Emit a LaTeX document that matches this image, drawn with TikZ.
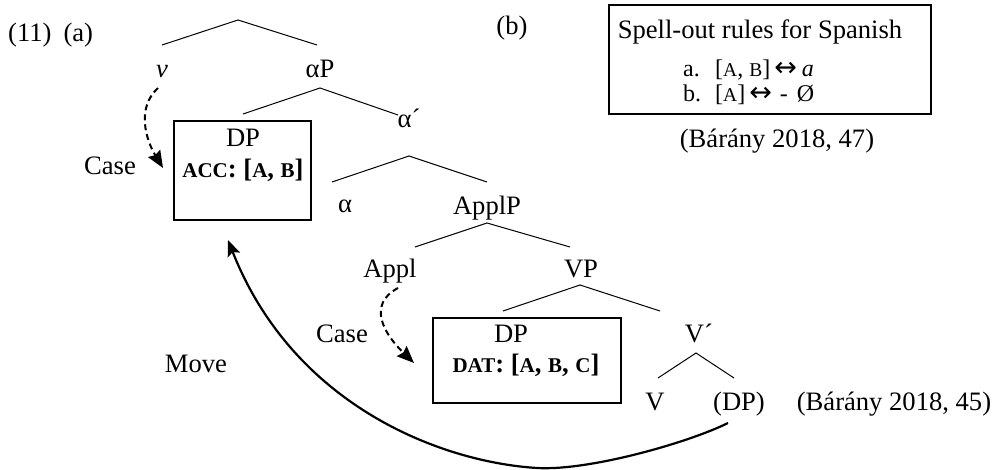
\documentclass[tikz,border=0pt]{standalone}
\usepackage{fontspec}
\setmainfont{Liberation Serif}
\newfontfamily\symfont{DejaVu Sans}
\usetikzlibrary{arrows.meta}
\newcommand{\smcb}[1]{{\fontsize{21}{22}\selectfont #1}}
\newcommand{\smcr}[1]{{\fontsize{19.5}{20}\selectfont #1}}
\newcommand{\lrar}{{\symfont\fontsize{27}{28}\selectfont ↔}}
\begin{document}
\begin{tikzpicture}[x=1pt,y=-1pt,
  lbl/.style={inner sep=0pt, anchor=base, font=\fontsize{26.6}{31}\selectfont},
  small/.style={inner sep=0pt, anchor=base west, font=\fontsize{24}{26}\selectfont},
  branch/.style={line width=1pt},
  box/.style={draw, line width=2.4pt, rectangle, inner sep=0pt},
  casearrow/.style={line width=2pt, dash pattern=on 6pt off 4pt, -{Stealth[length=17pt,width=14pt,inset=2pt]}},
  movearrow/.style={line width=2.2pt, -{Stealth[length=16pt,width=13pt,inset=3pt]}}]
\useasboundingbox (0,0) rectangle (994,470);

% labels
\node[lbl, anchor=base west] (ex) at (8,42) {(11)\hspace{12pt}(a)};
\node[lbl] (bl) at (512,35) {(b)};

% tree labels
\node[lbl] (v) at (162,78) {\textit{v}};
\node[lbl] (aP) at (320,78) {αP};
\node[lbl] (dp1) at (243,147) {DP};
\node[lbl] (acc) at (243,178) {\textbf{\smcb{ACC}: [\smcb{A}, \smcb{B}]}};
\node[lbl] (case1) at (110,175) {Case};
\node[lbl] (abar) at (409,128) {α´};
\node[lbl] (alpha) at (345,213) {α};
\node[lbl] (applP) at (487,215) {ApplP};
\node[lbl] (appl) at (390,278) {Appl};
\node[lbl] (VP) at (581,278) {VP};
\node[lbl] (case2) at (342,343) {Case};
\node[lbl] (dp2) at (511,343) {DP};
\node[lbl] (dat) at (526,373) {\textbf{\smcb{DAT}: [\smcb{A}, \smcb{B}, \smcb{C}]}};
\node[lbl] (Vbar) at (699,343) {V´};
\node[lbl] (V) at (655,410) {V};
\node[lbl] (trace) at (739,410) {(DP)};
\node[lbl] (src45) at (894,410) {(Bárány 2018, 45)};
\node[lbl] (move) at (196,373) {Move};

% boxes
\node[box, minimum width=137pt, minimum height=99pt] (accbox) at (242.5,170.5) {};
\node[box, minimum width=188pt, minimum height=85pt] (datbox) at (527,360.5) {};
\node[box, minimum width=322pt, minimum height=109pt] (spellbox) at (770,59.5) {};

% spell-out box
\node[lbl] (spell) at (760,39) {Spell-out rules for Spanish};
\node[small] (rulea) at (683,77) {\makebox[32pt][l]{a.}[\smcr{A}, \smcr{B}]\kern4pt\lrar\kern5pt\textit{a}};
\node[small] (ruleb) at (683,102) {\makebox[32pt][l]{b.}[\smcr{A}]\kern4pt\lrar\kern8pt-\kern9ptØ};
\node[lbl] (src47) at (777,148) {(Bárány 2018, 47)};

% branch points
\coordinate (t0) at (238,20);
\coordinate (t0l) at (162,45);
\coordinate (t0r) at (317,45);
\coordinate (t1) at (320,88);
\coordinate (t1l) at (243,114);
\coordinate (t1r) at (398,115);
\coordinate (t2) at (409,156);
\coordinate (t2l) at (332,182);
\coordinate (t2r) at (487,182);
\coordinate (t3) at (487,223);
\coordinate (t3l) at (415,247);
\coordinate (t3r) at (570,247);
\coordinate (t4) at (580,285);
\coordinate (t4l) at (503,311);
\coordinate (t4r) at (660,311);
\coordinate (t5) at (696,353);
\coordinate (t5l) at (658,378);
\coordinate (t5r) at (734,378);

\draw[branch] (t0l) -- (t0) -- (t0r);
\draw[branch] (t1l) -- (t1) -- (t1r);
\draw[branch] (t2l) -- (t2) -- (t2r);
\draw[branch] (t3l) -- (t3) -- (t3r);
\draw[branch] (t4l) -- (t4) -- (t4r);
\draw[branch] (t5l) -- (t5) -- (t5r);

% case arrows
\coordinate (vs) at (158,88);
\coordinate (vt) at (163,168);
\draw[casearrow] (vs) .. controls (136,108) and (146,140) .. (vt);
\coordinate (as) at (398,288);
\coordinate (at) at (414,363);
\draw[casearrow] (as) .. controls (366,305) and (385,335) .. (at);

% move arrow
\coordinate (ms) at (728,423);
\coordinate (mb) at (537,468);
\coordinate (mt) at (228,240);
\draw[movearrow] (ms) .. controls (690,442) and (590,471) .. (mb)
  .. controls (440,462) and (293,405) .. (mt);
\end{tikzpicture}
\end{document}
